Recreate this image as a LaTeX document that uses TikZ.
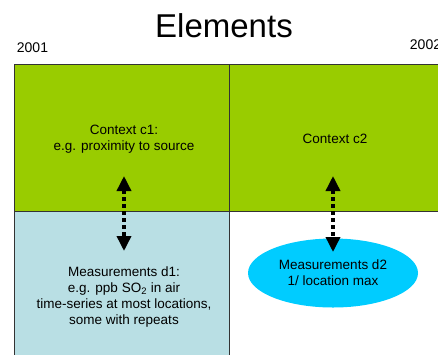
\documentclass[tikz,border=0pt]{standalone}
\usepackage{fontspec}
\setmainfont{Liberation Sans}
\usetikzlibrary{arrows.meta,shapes.geometric}
\definecolor{ctxgreen}{HTML}{99CC00}
\definecolor{measblue}{HTML}{B9DFE4}
\definecolor{meascyan}{HTML}{00CCFF}
\definecolor{edge}{HTML}{333333}
\tikzset{
  body/.style={font=\fontsize{13.5}{16.3}\selectfont},
  ctxbox/.style={draw=edge, line width=0.8pt, fill=ctxgreen, minimum width=215pt, minimum height=147pt, inner sep=0pt, anchor=north west},
  measbox/.style={draw=edge, line width=0.8pt, fill=measblue, minimum width=215pt, minimum height=160pt, inner sep=0pt, anchor=north west},
  measoval/.style={ellipse, fill=meascyan, minimum width=170pt, minimum height=69pt, inner sep=0pt, align=center, body},
  txt/.style={align=center, inner sep=0pt, body},
  link/.style={line width=3.5pt, dash pattern=on 4pt off 3pt, {Triangle[width=14pt,length=15pt,sep=0pt]}-{Triangle[width=14pt,length=15pt]}},
  lbl/.style={inner sep=0pt, font=\fontsize{14}{16}\selectfont}
}
\begin{document}
\begin{tikzpicture}[x=1pt,y=-1pt]
\useasboundingbox (0,0) rectangle (438,354);
\clip (0,0) rectangle (438,354);
\node[inner sep=0pt, font=\fontsize{33}{36}\selectfont] (title) at (224,26) {Elements};
\node[lbl] (y1) at (32.5,48) {2001};
\node[lbl] (y2) at (425.5,45) {2002};
\node[ctxbox] (c1) at (14,64) {};
\node[ctxbox, minimum width=230pt] (c2) at (229,64) {};
\node[measbox] (d1) at (14,211) {};
\node[txt] (c1t) at (124,139) {Context c1:\\e.g. proximity to source};
\node[txt] (c2t) at (335,139) {Context c2};
\node[txt] (d1t) at (124,297) {Measurements d1:\\e.g. ppb SO\textsubscript{2} in air\\time-series at most locations,\\some with repeats};
\node[measoval] (d2) at (333,273) {Measurements d2\\1/ location max};
\coordinate (a1top) at (124,176);
\coordinate (a1bot) at (124,251);
\coordinate (a2top) at (333,176);
\coordinate (a2bot) at (333,252);
\draw[link] (a1top) -- (a1bot);
\draw[link] (a2top) -- (a2bot);
\end{tikzpicture}
\end{document}
